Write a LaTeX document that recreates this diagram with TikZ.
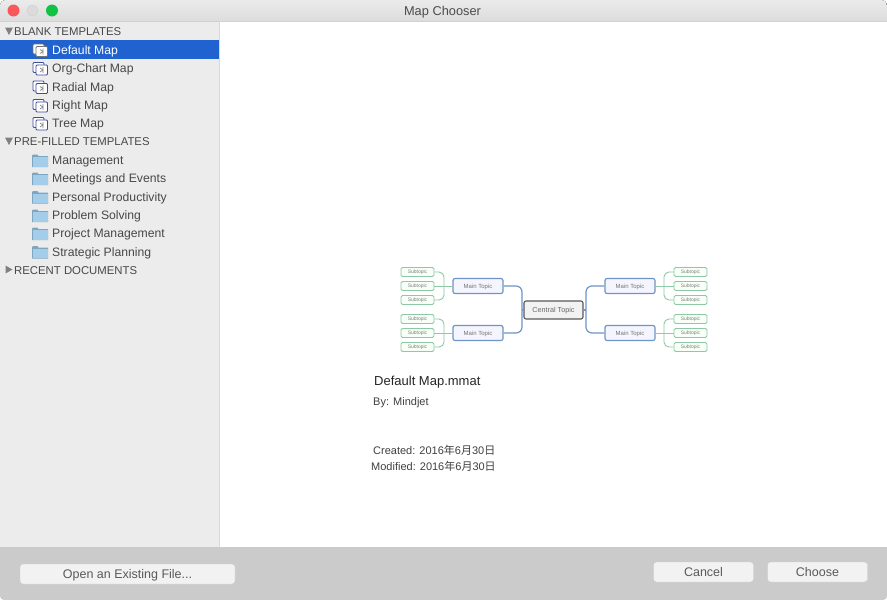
\documentclass[tikz,border=0pt]{standalone}
\usepackage{fontspec}
\setmainfont{Liberation Sans}
\newfontfamily\cjkfont{Noto Sans CJK SC}
\definecolor{barGray}{HTML}{CBCBCB}
\definecolor{sideGray}{HTML}{ECECEC}
\definecolor{selBlue}{HTML}{2063D0}
\definecolor{labelGray}{HTML}{484848}
\definecolor{mainBlue}{HTML}{6F95C4}
\definecolor{subGreen}{HTML}{8CC9A4}
\definecolor{iconBlue}{HTML}{3F4C9C}
\definecolor{folderBlue}{HTML}{A3CDE8}
\definecolor{folderEdge}{HTML}{7FA6C0}
\definecolor{closeRed}{HTML}{F9575A}
\definecolor{zoomGreen}{HTML}{12C244}
\begin{document}
\begin{tikzpicture}[x=1pt,y=-1pt]

    \tikzset{header/.style={anchor=base west,inner sep=0pt,font=\fontsize{11.35}{14}\selectfont,text=labelGray}}
    \tikzset{item/.style={anchor=base west,inner sep=0pt,font=\fontsize{12.2}{14}\selectfont,text=labelGray}}
    \tikzset{info/.style={anchor=base west,inner sep=0pt,font=\fontsize{11}{12}\selectfont,text=black!75}}
    \tikzset{btn/.style={draw=black!20,fill=black!5,rounded corners=3pt,minimum height=20pt,inner sep=0pt,text height=9pt,text depth=0pt,text=black!65,font=\fontsize{12.5}{14}\selectfont}}
    \tikzset{central/.style={draw=black!65,line width=1.1pt,fill=black!5,rounded corners=2pt,minimum width=59pt,minimum height=18pt,inner sep=0pt,text height=5.5pt,text depth=0pt,text=black!60,font=\fontsize{7.2}{8}\selectfont}}
    \tikzset{maintopic/.style={draw=mainBlue,line width=1.2pt,fill=blue!4,rounded corners=2pt,minimum width=50pt,minimum height=15pt,inner sep=0pt,text height=4.5pt,text depth=0pt,text=black!55,font=\fontsize{6}{7}\selectfont}}
    \tikzset{subtopic/.style={draw=subGreen,line width=0.9pt,fill=green!3,rounded corners=1.5pt,minimum width=33pt,minimum height=9pt,inner sep=0pt,text height=3.5pt,text depth=0pt,text=black!50,font=\fontsize{5}{6}\selectfont}}
    \tikzset{bluelink/.style={draw=mainBlue,line width=1.2pt,rounded corners=6pt}}
    \tikzset{greenlink/.style={draw=subGreen,line width=0.9pt,rounded corners=5pt}}
    \tikzset{light/.style={circle,minimum size=12pt,inner sep=0pt}}
    \tikzset{mapicon/.pic={
        \draw[draw=#1,fill=white,line width=0.9pt,rounded corners=1pt] (-7,-5.5) rectangle (4,4.5);
        \draw[draw=#1,fill=white,line width=0.9pt,rounded corners=1pt] (-4,-3) rectangle (7.5,7);
        \draw[draw=black!45,line width=0.8pt] (0,0) -- (3,2) -- (0,4) (3,-1) -- (3,5);
    }}
    \tikzset{foldericon/.pic={
        \fill[folderEdge] (-8,-4.5) -- (-7,-5.5) -- (-2.5,-5.5) -- (-1.5,-4) -- (8,-4) -- (8,7) -- (-8,7) -- cycle;
        \fill[folderBlue] (-7.5,-2.8) rectangle (7.5,6.5);
    }}

    \useasboundingbox (0,0) rectangle (887,600);

    % Window.
    \fill[white] (0,0) rectangle (887,600);
    \fill[top color=black!8,bottom color=black!16,rounded corners=5pt] (0,0) rectangle (887,30);
    \fill[white] (0,21) rectangle (887,40);
    \fill[sideGray] (0,21) rectangle (219,548);
    \draw[black!18,line width=0.6pt] (0,21) -- (887,21);
    \draw[black!15,line width=0.5pt] (219.5,21) -- (219.5,548);
    \fill[barGray] (0,547) -- (887,547) [rounded corners=4pt] -- (887,600) -- (0,600) [sharp corners] -- cycle;

    \node[light,fill=closeRed] (closebtn) at (13.5,10.5) {};
    \node[light,fill=black!14,draw=black!20,minimum size=11pt] (minbtn) at (32.5,10.5) {};
    \node[light,fill=zoomGreen] (zoombtn) at (52,10.5) {};
    \node[inner sep=0pt,text height=9pt,text depth=0pt,text=black!70,font=\fontsize{12.8}{14}\selectfont] (title) at (442.5,11) {Map Chooser};

    % Sidebar.
    \fill[selBlue] (0,40) rectangle (219,59);

    \fill[black!50] (5,27.5) -- (13,27.5) -- (9,35) -- cycle;
    \fill[black!50] (5,137.5) -- (13,137.5) -- (9,145) -- cycle;
    \fill[black!50] (5.5,265.5) -- (12.5,269.5) -- (5.5,273.5) -- cycle;

    \node[header] (blank) at (14,35.5) {BLANK TEMPLATES};
    \node[item,text=white] (t1) at (52,54) {Default Map};
    \node[item] (t2) at (52,72.5) {Org-Chart Map};
    \node[item] (t3) at (52,91) {Radial Map};
    \node[item] (t4) at (52,109.5) {Right Map};
    \node[item] (t5) at (52,127.5) {Tree Map};

    \pic at (40,49.5) {mapicon=black!55};
    \pic at (40,68) {mapicon=iconBlue};
    \pic at (40,86.5) {mapicon=iconBlue};
    \pic at (40,105) {mapicon=iconBlue};
    \pic at (40,123) {mapicon=iconBlue};

    \node[header] (prefilled) at (14,145.5) {PRE-FILLED TEMPLATES};
    \node[item] (f1) at (52,164.5) {Management};
    \node[item] (f2) at (52,182.5) {Meetings and Events};
    \node[item] (f3) at (52,201) {Personal Productivity};
    \node[item] (f4) at (52,219.5) {Problem Solving};
    \node[item] (f5) at (52,237.5) {Project Management};
    \node[item] (f6) at (52,256) {Strategic Planning};

    \pic at (40,160) {foldericon};
    \pic at (40,178) {foldericon};
    \pic at (40,196.5) {foldericon};
    \pic at (40,215) {foldericon};
    \pic at (40,233) {foldericon};
    \pic at (40,251.5) {foldericon};

    \node[header] (recent) at (14,274) {RECENT DOCUMENTS};

    % Map preview.
    \node[central] (c) at (553.5,310) {Central Topic};
    \node[maintopic] (m1) at (478,286) {Main Topic};
    \node[maintopic] (m2) at (478,333) {Main Topic};
    \node[maintopic] (m3) at (630,286) {Main Topic};
    \node[maintopic] (m4) at (630,333) {Main Topic};

    \node[subtopic] (s1) at (417.5,272) {Subtopic};
    \node[subtopic] (s2) at (417.5,286) {Subtopic};
    \node[subtopic] (s3) at (417.5,300) {Subtopic};
    \node[subtopic] (s4) at (417.5,319) {Subtopic};
    \node[subtopic] (s5) at (417.5,333) {Subtopic};
    \node[subtopic] (s6) at (417.5,347) {Subtopic};
    \node[subtopic] (s7) at (690.5,272) {Subtopic};
    \node[subtopic] (s8) at (690.5,286) {Subtopic};
    \node[subtopic] (s9) at (690.5,300) {Subtopic};
    \node[subtopic] (s10) at (690.5,319) {Subtopic};
    \node[subtopic] (s11) at (690.5,333) {Subtopic};
    \node[subtopic] (s12) at (690.5,347) {Subtopic};

    % Trunks.
    \coordinate (jl) at (522,310);
    \coordinate (jr) at (586,310);
    \coordinate (j1) at (444,286);
    \coordinate (j2) at (444,333);
    \coordinate (j3) at (664,286);
    \coordinate (j4) at (664,333);

    \draw[bluelink] (c.west) -- (jl);
    \draw[bluelink] (c.east) -- (jr);
    \draw[bluelink] (m1.east) -| (jl) |- (m2.east);
    \draw[bluelink] (m3.west) -| (jr) |- (m4.west);

    \draw[greenlink] (s1.east) -| (j1) |- (s3.east);
    \draw[greenlink] (s4.east) -| (j2) |- (s6.east);
    \draw[greenlink] (s7.west) -| (j3) |- (s9.west);
    \draw[greenlink] (s10.west) -| (j4) |- (s12.west);

    \draw[greenlink] (m1.west) -- (s2.east);
    \draw[greenlink] (m2.west) -- (s5.east);
    \draw[greenlink] (m3.east) -- (s8.west);
    \draw[greenlink] (m4.east) -- (s11.west);

    % Details.
    \node[info,font=\fontsize{13}{14}\selectfont,text=black!85] (filename) at (374,385) {Default Map.mmat};
    \node[info] (author) at (373,405) {By: Mindjet};
    \node[info] (created) at (373,454) {Created: 2016{\cjkfont 年}6{\cjkfont 月}30{\cjkfont 日}};
    \node[info] (modified) at (371,470) {Modified: 2016{\cjkfont 年}6{\cjkfont 月}30{\cjkfont 日}};

    % Buttons.
    \node[btn,minimum width=215pt] (open) at (127.5,574) {Open an Existing File...};
    \node[btn,minimum width=100pt] (cancel) at (703.5,572) {Cancel};
    \node[btn,minimum width=100pt] (choose) at (817.5,572) {Choose};

\end{tikzpicture}
\end{document}
